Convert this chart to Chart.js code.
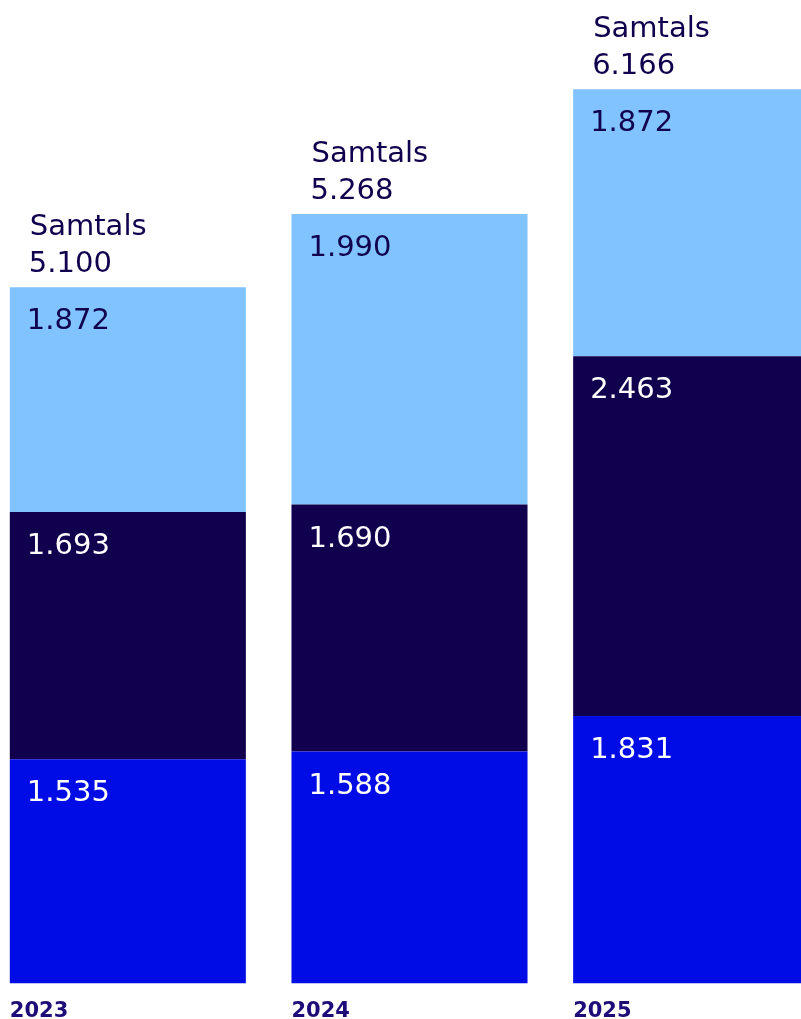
<!DOCTYPE html>
<html>
<head>
<meta charset="utf-8">
<script src="https://cdn.jsdelivr.net/npm/chart.js@4/dist/chart.umd.min.js"></script>
<style>
  html, body { margin: 0; padding: 0; background: #fff; overflow: hidden; width: 801px; height: 1019px; }
  #wrap { position: relative; width: 801px; height: 1019px; overflow: hidden; }
  #chart { position: absolute; left: -13px; top: 0; }
</style>
</head>
<body>
<div id="wrap"><canvas id="chart" width="845" height="1019"></canvas></div>
<script>
const years = ['2023', '2024', '2025'];

// segment sizes as drawn in the picture (bottom to top)
const blueValues = [1535, 1588, 1831];
const navyValues = [1693, 1690, 2463];
const lightValues = [1538, 1990, 1827];   // 2023 and 2025 tops are drawn shorter than their labels

// texts printed on the segments
const blueLabels = ['1.535', '1.588', '1.831'];
const navyLabels = ['1.693', '1.690', '2.463'];
const lightLabels = ['1.872', '1.990', '1.872'];
const totalLabels = ['5.100', '5.268', '6.166'];

const navy = '#10004d';
const font = '"DejaVu Sans", sans-serif';

const labelPlugin = {
    id: 'labels',
    afterDatasetsDraw(chart) {
        const ctx = chart.ctx;
        ctx.save();
        ctx.textBaseline = 'alphabetic';
        ctx.textAlign = 'left';
        chart.data.datasets.forEach((ds, i) => {
            const meta = chart.getDatasetMeta(i);
            meta.data.forEach((bar, j) => {
                const left = bar.x - bar.width / 2;
                ctx.font = '29px ' + font;
                ctx.fillStyle = ds.textColor;
                ctx.fillText(ds.texts[j], left + 17, bar.y + 42);
                if (i === chart.data.datasets.length - 1) {
                    ctx.fillStyle = navy;
                    ctx.fillText('Samtals', left + 20, bar.y - 52);
                    ctx.fillText(totalLabels[j], left + 19, bar.y - 15);
                }
                if (i === 0) {
                    ctx.font = 'bold 21px ' + font;
                    ctx.fillStyle = '#1e0c78';
                    ctx.fillText(years[j], left, bar.base + 33.5);
                }
            });
        });
        ctx.restore();
    }
};

new Chart(document.getElementById('chart'), {
    type: 'bar',
    data: {
        labels: years,
        datasets: [
            { data: blueValues, backgroundColor: '#000ce5', texts: blueLabels, textColor: '#ffffff' },
            { data: navyValues, backgroundColor: navy, texts: navyLabels, textColor: '#ffffff' },
            { data: lightValues, backgroundColor: '#80c3ff', texts: lightLabels, textColor: navy }
        ]
    },
    options: {
        responsive: false,
        animation: false,
        devicePixelRatio: 1,
        layout: { padding: { top: 0, bottom: 35.5, left: 0, right: 0 } },
        datasets: { bar: { categoryPercentage: 1, barPercentage: 0.838, borderWidth: 0 } },
        plugins: { legend: { display: false }, tooltip: { enabled: false } },
        scales: {
            x: { stacked: true, display: false },
            y: { stacked: true, display: false, min: 0, max: 6732 }
        }
    },
    plugins: [labelPlugin]
});
</script>
</body>
</html>
